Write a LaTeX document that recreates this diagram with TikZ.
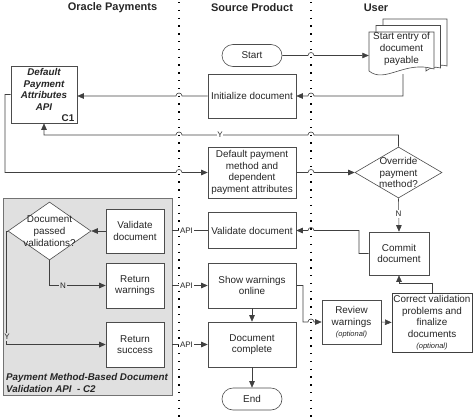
\documentclass[tikz,border=0pt]{standalone}
\usepackage{fontspec}
\setmainfont{Liberation Sans}
\usetikzlibrary{arrows.meta,shapes.geometric}
\newcommand\optnote[1]{{\itshape\fontsize{7.5}{9}\selectfont #1}}
\begin{document}
\begin{tikzpicture}[x=1pt,y=-1pt,
  every node/.style={font=\fontsize{9.9}{11.7}\selectfont, text=black!85, inner sep=0pt, align=center},
  box/.style={draw=black!70, line width=0.6pt, fill=white, rectangle},
  term/.style={draw=black!70, line width=0.6pt, fill=white, rectangle, rounded corners=11pt, minimum width=60pt, minimum height=22pt},
  dia/.style={draw=black!70, line width=0.6pt, fill=white, diamond, inner sep=0pt},
  conn/.style={draw=black!75, line width=0.6pt, -{Triangle[length=6.5pt,width=5.5pt]}},
  plain/.style={draw=black!75, line width=0.6pt},
  lab/.style={fill=white, font=\fontsize{8}{9}\selectfont, inner sep=0.8pt},
  glab/.style={fill=black!12, font=\fontsize{8}{9}\selectfont, inner sep=0.8pt},
  head/.style={font=\bfseries\fontsize{11}{13}\selectfont},
  lane/.style={draw=black, line width=1.3pt, dash pattern=on 1.3pt off 6.5pt},
  bi/.style={font=\bfseries\itshape\fontsize{9.8}{11.8}\selectfont}
]
\useasboundingbox (0,0) rectangle (474,418);

% grey API box
\node[draw=black!55, fill=black!12, line width=0.6pt, minimum width=169pt, minimum height=197pt] (c2box) at (87.5,296.5) {};

% lane separators
\draw[lane] (179,2) -- (179,418);
\draw[lane] (311,2) -- (311,418);

% headers
\node[head] (h1) at (112.5,8) {Oracle Payments};
\node[head] (h2) at (252,8) {Source Product};
\node[head] (h3) at (376,8) {User};

% user document stack
\begin{scope}[draw=black!70, line width=0.6pt, fill=white]
\filldraw (383,19) -- (447,19) -- (447,66) .. controls (440,64) and (436,66) .. (433,68) -- (433,45) -- (383,45) -- cycle;
\filldraw (376,25.5) -- (440.5,25.5) -- (440.5,68) .. controls (434,66) and (430,68) .. (426,71) -- (426,50) -- (376,50) -- cycle;
\filldraw (369,32) -- (434,32) -- (434,69) .. controls (405,60) and (385,84) .. (369,71) -- cycle;
\end{scope}
\node (udoc) at (401.5,49) [minimum width=65pt, minimum height=30pt] {Start entry of\\document\\payable};
\coordinate (docb) at (403,74);

% source product nodes
\node[term] (start) at (252,55.5) {Start};
\node[box, minimum width=88pt, minimum height=44pt] (init) at (252,96) {Initialize document};
\node[box, minimum width=88pt, minimum height=51pt] (defpm) at (252,172.5) {Default payment\\method and\\dependent\\payment attributes};
\node[box, minimum width=88pt, minimum height=36pt] (valsrc) at (252,230.5) {Validate document};
\node[box, minimum width=88pt, minimum height=45pt] (show) at (252,285.5) {Show warnings\\online};
\node[box, minimum width=88pt, minimum height=45pt] (complete) at (252,344.5) {Document\\complete};
\node[term] (end) at (252,399) {End};

% oracle payments nodes
\node[box, minimum width=66pt, minimum height=57pt] (dpa) at (44,94.5) {};
\node[bi] (dpat) at (44,89.5) {Default\\Payment\\Attributes\\API};
\node[font=\bfseries\fontsize{9.8}{11}\selectfont] (c1) at (68,118) {C1};

\node[box, minimum width=58pt, minimum height=44pt] (valc2) at (135,231) {Validate\\document};
\node[dia, minimum width=83pt, minimum height=58pt] (pas) at (49.5,231) {};
\node (past) at (49.5,231) {Document\\passed\\validations?};
\node[box, minimum width=58pt, minimum height=45pt] (retwarn) at (135,285.5) {Return\\warnings};
\node[box, minimum width=58pt, minimum height=45pt] (retsucc) at (135,344.5) {Return\\success};
\node[bi, anchor=north west, align=left] (cap) at (6,373) {Payment Method-Based Document\\Validation API\ \ - C2};

% user nodes
\node[dia, minimum width=87pt, minimum height=51pt] (ovr) at (398.5,172.5) {};
\node (ovrt) at (398.5,172.5) {Override\\payment\\method?};
\node[box, minimum width=60pt, minimum height=43pt] (commit) at (399,253.5) {Commit\\document};
\node[box, minimum width=59pt, minimum height=44pt] (review) at (351.5,322) {Review\\warnings\\[-1pt]\optnote{(optional)}};
\node[box, draw=black!75, line width=0.9pt, minimum width=80pt, minimum height=59pt] (correct) at (432,322.5) {Correct validation\\problems and\\finalize\\documents\\[-1pt]\optnote{(optional)}};

% connectors
\draw[conn] (start.east) -- (308,55.5) .. controls (308,51.5) and (314,51.5) .. (314,55.5) -- (start.east -| udoc.west);
\draw[conn] (docb) -- (403,96) -- (314,96) .. controls (314,92) and (308,92) .. (308,96) -- (init.east);
\draw[conn] (init.west) -- (182,96) .. controls (182,92) and (176,92) .. (176,96) -- (dpa.east |- init.west);
\draw[conn] (ovr.north) -- (398.5,135) -- (314,135) .. controls (314,131) and (308,131) .. (308,135)
  -- (182,135) .. controls (182,131) and (176,131) .. (176,135) -- (44,135) -- (dpa.south);
\node[lab] (ylab) at (220,135) {Y};
\draw[conn] (dpa.west) -- (5,94.5) -- (5,172.5) -- (176,172.5) .. controls (176,168.5) and (182,168.5) .. (182,172.5) -- (defpm.west);
\draw[conn] (defpm.east) -- (308,172.5) .. controls (308,168.5) and (314,168.5) .. (314,172.5) -- (ovr.west);
\draw[conn] (ovr.south) -- (commit.north);
\node[lab] (nlab) at (398.5,214) {N};
\draw[conn] (commit.west) -- (359,253.5) -- (359,230.5) -- (314,230.5) .. controls (314,226.5) and (308,226.5) .. (308,230.5) -- (valsrc.east);
\draw[plain] (valsrc.west) -- (c2box.east |- valsrc.west);
\node[lab] (api1) at (186.5,230.5) {API};
\draw[conn] (valc2.west) -- (pas.east);
\draw[conn] (pas.south) |- (retwarn.west);
\node[glab] (nlab2) at (63,285.5) {N};
\draw[conn] (pas.west) -- ++(-1,0) |- (retsucc.west);
\node[glab] (ylab2) at (7,337) {Y};
\draw[conn] (c2box.east |- show.west) -- (show.west);
\node[lab] (api2) at (186.5,285.5) {API};
\draw[conn] (c2box.east |- complete.west) -- (complete.west);
\node[lab] (api3) at (186.5,344.5) {API};
\draw[conn] (show.south) -- (complete.north);
\draw[conn] (complete.south) -- (end.north);
\draw[conn] (show.east) -- (303,285.5) -- (303,322) -- (308,322) .. controls (308,318) and (314,318) .. (314,322) -- (review.west);
\draw[conn] (review.east) -- (correct.west);
\draw[conn] (correct.north) -- ++(0,-9) -| (commit.south);
\end{tikzpicture}
\end{document}
